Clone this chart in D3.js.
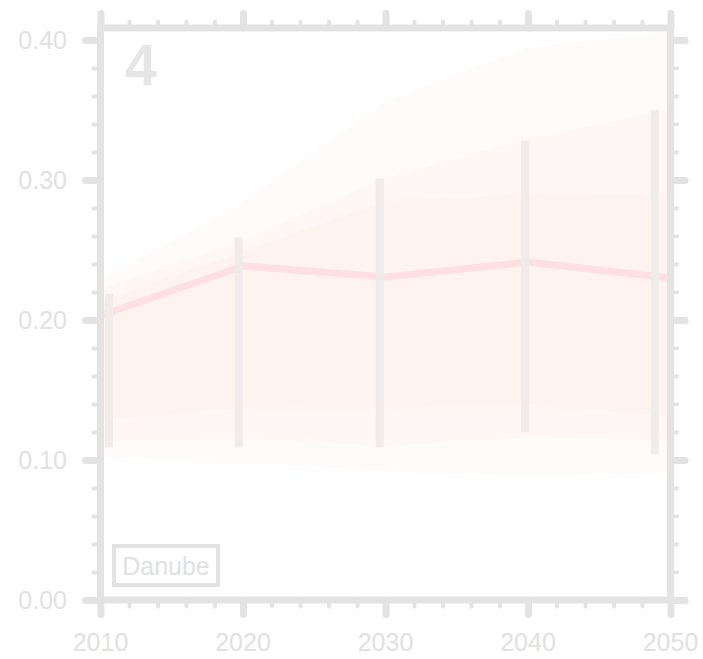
<!DOCTYPE html>
<html>
<head>
<meta charset="utf-8">
<script src="https://cdn.jsdelivr.net/npm/d3@7/dist/d3.min.js"></script>
<style>
  html, body { margin: 0; padding: 0; background: #ffffff; }
  svg { display: block; }
  text { font-family: "Liberation Sans", Arial, Helvetica, sans-serif; }
</style>
</head>
<body>
<script>
// ---- data ----
const years = [2010, 2020, 2030, 2040, 2050];
const median = [0.203, 0.2386, 0.2307, 0.2414, 0.230];
const outerHi = [0.229, 0.284, 0.356, 0.395, 0.406];
const outerLo = [0.102, 0.098, 0.092, 0.088, 0.091];
const midHi = [0.222, 0.257, 0.301, 0.330, 0.350];
const midLo = [0.113, 0.115, 0.110, 0.116, 0.114];
const innerHi = [0.213, 0.249, 0.285, 0.290, 0.289];
const innerLo = [0.129, 0.137, 0.138, 0.140, 0.131];
const barYears = [2010.6, 2019.7, 2029.6, 2039.8, 2048.9];
const barLo = [0.109, 0.109, 0.109, 0.120, 0.104];
const barHi = [0.219, 0.259, 0.301, 0.328, 0.350];
const xTickValues = [2010, 2020, 2030, 2040, 2050];
const yTickValues = [0.0, 0.1, 0.2, 0.3, 0.4];
const panelLabel = "4";
const regionLabel = "Danube";

// ---- layout ----
const W = 703, H = 659;
const x = d3.scaleLinear().domain([2010, 2050]).range([100.5, 670.5]);
const y = d3.scaleLinear().domain([0, 0.4]).range([600, 40]);
const yTop = 0.4086;

const axisColor = "#e3e3e3";
const textColor = "#e1e1e1";

const svg = d3.select("body").append("svg").attr("width", W).attr("height", H);

// bands
const bands = [
  {hi: outerHi, lo: outerLo},
  {hi: midHi, lo: midLo},
  {hi: innerHi, lo: innerLo}
];
const area = d3.area().x(d => x(d.year)).y0(d => y(d.lo)).y1(d => y(d.hi));
bands.forEach(b => {
  const data = years.map((yr, i) => ({year: yr, lo: b.lo[i], hi: b.hi[i]}));
  svg.append("path").datum(data).attr("d", area)
    .attr("fill", "rgb(255,195,185)").attr("fill-opacity", 0.065);
});

// median line
const line = d3.line().x((d, i) => x(years[i])).y(d => y(d));
svg.append("path").datum(median).attr("d", line)
  .attr("fill", "none").attr("stroke", "#ffdfe2").attr("stroke-width", 7)
  .attr("stroke-linejoin", "round");

// error bars
svg.append("g").selectAll("line").data(barYears).join("line")
  .attr("x1", d => x(d)).attr("x2", d => x(d))
  .attr("y1", (d, i) => y(barLo[i])).attr("y2", (d, i) => y(barHi[i]))
  .attr("stroke", "#efebeb").attr("stroke-width", 8).attr("stroke-opacity", 0.95);

// frame
const x0 = x(2010), x1 = x(2050), yb = y(0), yt = y(yTop);
svg.append("rect").attr("x", x0).attr("y", yt).attr("width", x1 - x0).attr("height", yb - yt)
  .attr("fill", "none").attr("stroke", axisColor).attr("stroke-width", 7);

// ticks via d3 axes
function styleAxis(g) {
  g.select(".domain").remove();
  g.selectAll(".tick line").attr("stroke", axisColor).attr("stroke-linecap", "round");
  g.selectAll(".tick text").remove();
}
const xMinor = d3.range(2012, 2050, 2).filter(v => v % 10 !== 0);
const yMinor = d3.range(1, 20).map(i => i * 0.02).filter((v, i) => (i + 1) % 5 !== 0);

function addAxis(axisFn, scale, vals, size, width, transform) {
  const g = svg.append("g").attr("transform", transform)
    .call(axisFn(scale).tickValues(vals).tickSize(size).tickSizeOuter(0));
  styleAxis(g);
  g.selectAll(".tick line").attr("stroke-width", width);
  return g;
}
addAxis(d3.axisBottom, x, xTickValues, 14.5, 7, `translate(0,${yb})`);
addAxis(d3.axisBottom, x, xMinor, 6.5, 4, `translate(0,${yb})`);
addAxis(d3.axisTop, x, xTickValues, 14.5, 7, `translate(0,${yt})`);
addAxis(d3.axisTop, x, xMinor, 6.5, 4, `translate(0,${yt})`);
addAxis(d3.axisLeft, y, yTickValues, 15, 7, `translate(${x0},0)`);
addAxis(d3.axisLeft, y, yMinor, 7, 4, `translate(${x0},0)`);
addAxis(d3.axisRight, y, yTickValues, 14.5, 7, `translate(${x1},0)`);
addAxis(d3.axisRight, y, yMinor, 6.5, 4, `translate(${x1},0)`);

// tick labels
svg.append("g").selectAll("text").data(yTickValues).join("text")
  .attr("x", 67).attr("y", d => y(d) + 9)
  .attr("text-anchor", "end").attr("font-size", 25).attr("fill", textColor)
  .text(d => d3.format(".2f")(d));
svg.append("g").selectAll("text").data(xTickValues).join("text")
  .attr("x", d => x(d)).attr("y", 651)
  .attr("text-anchor", "middle").attr("font-size", 25).attr("fill", textColor)
  .text(d => d);

// panel label
svg.append("text").attr("x", 125).attr("y", 85)
  .attr("font-size", 57).attr("font-weight", "bold").attr("fill", "#e6e6e6")
  .text(panelLabel);

// region label box
svg.append("rect").attr("x", 114).attr("y", 546).attr("width", 104).attr("height", 39)
  .attr("fill", "#ffffff").attr("stroke", axisColor).attr("stroke-width", 4);
svg.append("text").attr("x", 166).attr("y", 575).attr("text-anchor", "middle")
  .attr("font-size", 25).attr("fill", textColor).text(regionLabel);
</script>
</body>
</html>
